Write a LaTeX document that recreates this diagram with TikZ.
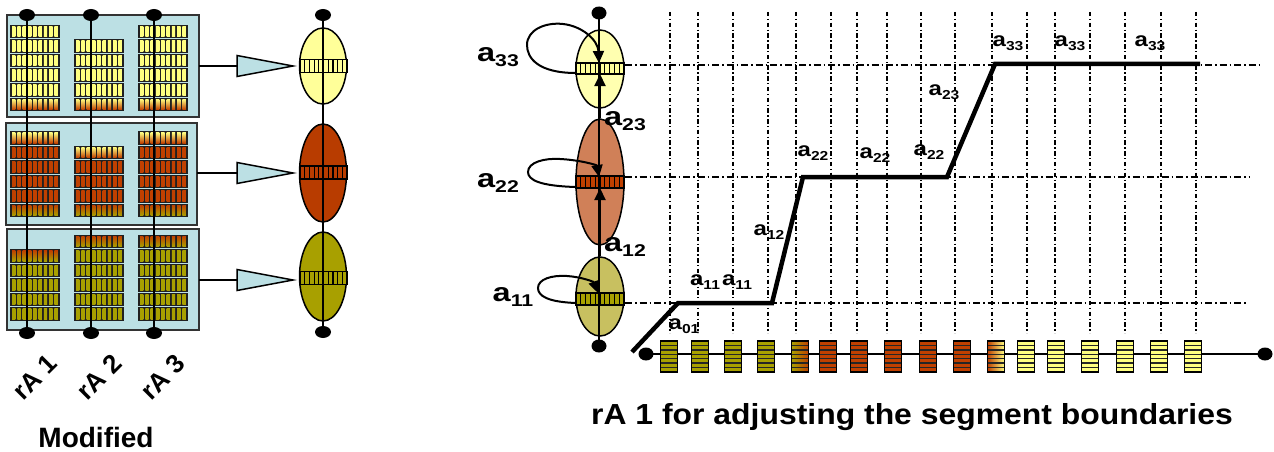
\documentclass[tikz,border=0pt]{standalone}
\usepackage{fontspec}
\setmainfont{Liberation Sans}
\usepackage{graphicx}
\usetikzlibrary{shapes.geometric,arrows.meta}
\definecolor{boxblue}{HTML}{BCE0E4}
\definecolor{ybar}{HTML}{FFFF80}
\definecolor{rbar}{HTML}{C04000}
\definecolor{obar}{HTML}{A8A000}
\definecolor{rowdark}{HTML}{202020}
\definecolor{lyell}{HTML}{FFFF99}
\definecolor{lred}{HTML}{B83C00}
\definecolor{lolive}{HTML}{A8A000}
\definecolor{ryell}{HTML}{FFFFB0}
\definecolor{rsalmon}{HTML}{D08058}
\definecolor{rolive}{HTML}{C8C060}
% array row: x, ytop, top colour, bottom colour
\newcommand\arow[4]{%
  \fill[rowdark] (#1,#2) rectangle ++(50,13.5);
  \foreach \i in {0,...,8} {\shade[top color=#3,bottom color=#4] ({#1+2+\i*5.3},{#2+1.5}) rectangle ++(3.4,10.5);}
}
% band: cx, cy, w, h, colour, number of dividers
\newcommand\bandrow[6]{%
  \draw[line width=1.2pt,fill=#5] ({#1-#3/2},{#2-#4/2}) rectangle ({#1+#3/2},{#2+#4/2});
  \foreach \k in {1,...,#6} {\draw[line width=1.2pt] ({#1-#3/2+\k*#3/(#6+1)},{#2-#4/2}) -- ++(0,#4);}
}
% striped bar: x centre, left colour, right colour
\newcommand\sbar[3]{%
  \shade[left color=#2,right color=#3] ({#1-8.5},341) rectangle ({#1+8.5},372);
  \foreach \k in {1,...,6} {\draw[line width=1.5pt,black!85] ({#1-8.5},{341+\k*31/7}) -- ++(17,0);}
  \draw[line width=1.5pt] ({#1-8.5},341) rectangle ({#1+8.5},372);
}
\newcommand\bigA[1]{\scalebox{1.25}[1]{{\fontsize{26}{26}\selectfont a}\raisebox{-5pt}{\fontsize{17}{17}\selectfont #1}}}
\newcommand\smA[1]{\scalebox{1.2}[1]{{\fontsize{20}{20}\selectfont a}\raisebox{-4pt}{\fontsize{13}{13}\selectfont #1}}}
\begin{document}
\begin{tikzpicture}[x=1pt,y=-1pt,
  panel/.style={draw=black!80,line width=1.5pt,fill=boxblue,inner sep=0,outer sep=0},
  dot/.style={ellipse,fill=black,minimum width=16,minimum height=12,inner sep=0},
  ell/.style={ellipse,draw,line width=1.5pt,inner sep=0},
  vline/.style={line width=2pt},
  conn/.style={line width=1.5pt},
  tri/.style={draw,line width=1.5pt,fill=boxblue,line join=miter},
  gridv/.style={line width=1.3pt,dash pattern=on 4.5pt off 2.5pt on 1.2pt off 2.5pt},
  gridh/.style={line width=1.3pt,dash pattern=on 7pt off 3pt on 1.5pt off 3pt},
  stair/.style={line width=4.5pt,line join=miter},
  arr/.style={line width=2pt,-{Triangle[width=11pt,length=12pt]}},
  lab/.style={font=\bfseries,inner sep=0},
  rlab/.style={rotate=45,font=\bfseries\fontsize{26}{26}\selectfont,inner sep=0},
  captext/.style={font=\bfseries,inner sep=0}]
\useasboundingbox (0,0) rectangle (1274,452);
% ---------------- left panel ----------------
\node[panel,anchor=north west,minimum width=192,minimum height=102] (box1) at (7,15) {};
\node[panel,anchor=north west,minimum width=191,minimum height=102] (box2) at (6,123) {};
\node[panel,anchor=north west,minimum width=192,minimum height=101] (box3) at (7,229) {};
% box 1
\foreach \x in {10,138} {
  \foreach \y in {25,39.5,54,68.5,83} {\arow{\x}{\y}{ybar}{ybar}}
  \arow{\x}{97.5}{ybar}{rbar}}
\foreach \y in {39.5,54,68.5,83} {\arow{74}{\y}{ybar}{ybar}}
\arow{74}{97.5}{ybar}{rbar}
% box 2
\foreach \x in {10,138} {
  \arow{\x}{131}{ybar}{rbar}
  \foreach \y in {145.5,160,174.5,189} {\arow{\x}{\y}{rbar}{rbar}}
  \arow{\x}{203.5}{rbar}{obar}}
\arow{74}{145.5}{ybar}{rbar}
\foreach \y in {160,174.5,189} {\arow{74}{\y}{rbar}{rbar}}
\arow{74}{203.5}{rbar}{obar}
% box 3
\arow{10}{249}{rbar}{obar}
\foreach \y in {263.5,278,292.5,307} {\arow{10}{\y}{obar}{obar}}
\foreach \x in {74,138} {
  \arow{\x}{234.5}{rbar}{obar}
  \foreach \y in {249,263.5,278,292.5,307} {\arow{\x}{\y}{obar}{obar}}}
% vertical wires
\foreach \n/\x in {a/27,b/91,c/154} {
  \node[dot] (t\n) at (\x,15) {};
  \node[dot] (b\n) at (\x,333) {};
  \draw[vline] (t\n.center) -- (b\n.center);}
% connectors and triangles
\foreach \i/\y in {1/66,2/173,3/280} {
  \coordinate (tri\i) at (237,\y);
  \draw[conn] (box\i.east |- tri\i) -- (tri\i);
  \draw[tri] (tri\i) -- ++(0,-10.5) -- ++(56,10.5) -- ++(-56,10.5) -- cycle;}
% left ellipses
\node[ell,fill=lyell,minimum width=47,minimum height=76] (L1) at (323,66) {};
\node[ell,fill=lred,minimum width=47,minimum height=98] (L2) at (323,173) {};
\node[ell,fill=lolive,minimum width=47,minimum height=89] (L3) at (323,276.5) {};
\bandrow{323.5}{66}{47}{13}{lyell}{9}
\bandrow{323.5}{172.5}{47}{13}{lred}{9}
\bandrow{323.5}{278}{47}{13}{lolive}{9}
\node[dot] (Lt) at (323,15) {};
\node[dot] (Lb) at (323,332) {};
\draw[vline] (Lt.center) -- (Lb.center);
% labels
\node[rlab] (rA1) at (35,377) {rA 1};
\node[rlab] (rA2) at (99,377) {rA 2};
\node[rlab] (rA3) at (163,377) {rA 3};
\node[font=\bfseries\fontsize{28}{28}\selectfont,inner sep=0] (mod) at (96,437) {Modified};
% ---------------- right panel ----------------
\foreach \x in {670,698,733,768,796,831,857,887,921,955,992,1027,1055,1090,1125,1161,1196}
  \draw[gridv] (\x,12) -- (\x,333);
\draw[gridh] (625,65) -- (1262,65);
\draw[gridh] (625,177) -- (1250,177);
\draw[gridh] (625,303) -- (1248,303);
% baseline with bars
\node[dot,minimum width=15,minimum height=13] (dl) at (646,354) {};
\node[dot,minimum width=15,minimum height=13] (dr) at (1265,354) {};
\draw[vline] (dl.center) -- (dr.center);
\foreach \x in {669,700,733,766} {\sbar{\x}{obar}{obar}}
\sbar{800}{obar}{rbar}
\foreach \x in {828,859,893,928,962} {\sbar{\x}{rbar}{rbar}}
\sbar{996}{rbar}{ybar}
\foreach \x in {1026,1056,1090,1125,1159,1193} {\sbar{\x}{ybar}{ybar}}
% staircase
\coordinate (s0) at (632,352);
\coordinate (s1) at (678,303);
\coordinate (s2) at (772,303);
\coordinate (s3) at (803,177);
\coordinate (s4) at (947,177);
\coordinate (s5) at (995,64);
\coordinate (s6) at (1200,64);
\draw[stair] (s0) -- (s1) -- (s2) -- (s3) -- (s4) -- (s5) -- (s6);
% right ellipses
\node[ell,fill=ryell,minimum width=48,minimum height=78] (Ry) at (600,69) {};
\node[ell,fill=rsalmon,minimum width=48,minimum height=126] (Rs) at (600,182) {};
\node[ell,fill=rolive,minimum width=48,minimum height=79] (Ro) at (600,296.5) {};
\bandrow{600}{68.5}{48}{11}{lyell}{9}
\bandrow{600}{182}{48}{12}{rbar}{9}
\bandrow{600}{299}{48}{12}{obar}{9}
\coordinate (bY) at (600,74);
\coordinate (bS) at (600,188);
\node[dot,minimum width=15,minimum height=13] (Rt) at (599,13) {};
\node[dot,minimum width=15,minimum height=13] (Rb) at (599,346) {};
\draw[line width=2.5pt] (Rt.center) -- (Rb.center);
\draw[arr] (Rs.north) -- (bY);
\draw[arr] (Ro.north) -- (bS);
% self loops
\coordinate (l33s) at (576,73); \coordinate (l33e) at (599,63);
\coordinate (l22s) at (576,187); \coordinate (l22e) at (599,177);
\coordinate (l11s) at (576,303); \coordinate (l11e) at (598,293);
\draw[arr] (l33s) .. controls (538,73) and (527,58) .. (527,45) .. controls (527,30) and (545,22) .. (563,24) .. controls (582,26) and (598,40) .. (l33e);
\draw[arr] (l22s) .. controls (540,186) and (528,180) .. (528,172) .. controls (528,162) and (545,158) .. (560,159) .. controls (580,160) and (597,165) .. (l22e);
\draw[arr] (l11s) .. controls (548,302) and (538,296) .. (538,288) .. controls (538,279) and (552,275) .. (567,276) .. controls (582,277) and (594,282) .. (l11e);
% big labels
\node[lab] (A33) at (498,57) {\bigA{33}};
\node[lab] (A23) at (625,121) {\bigA{23}};
\node[lab] (A22) at (498,183) {\bigA{22}};
\node[lab] (A12) at (625,247) {\bigA{12}};
\node[lab] (A11) at (513,297) {\bigA{11}};
% small labels
\node[lab] (s01) at (684,326) {\smA{01}};
\node[lab] (s11a) at (705,282) {\smA{11}};
\node[lab] (s11b) at (737,282) {\smA{11}};
\node[lab] (s12) at (769,232) {\smA{12}};
\node[lab] (s22a) at (813,153) {\smA{22}};
\node[lab] (s22b) at (875,155) {\smA{22}};
\node[lab] (s22c) at (929,152) {\smA{22}};
\node[lab] (s23) at (944,92) {\smA{23}};
\node[lab] (s33a) at (1008,43) {\smA{33}};
\node[lab] (s33b) at (1070,43) {\smA{33}};
\node[lab] (s33c) at (1150,43) {\smA{33}};
% caption
\node[captext] (caption) at (912,417) {\scalebox{1.1}[1]{\fontsize{29}{29}\selectfont rA 1 for adjusting the segment boundaries}};
\end{tikzpicture}
\end{document}
